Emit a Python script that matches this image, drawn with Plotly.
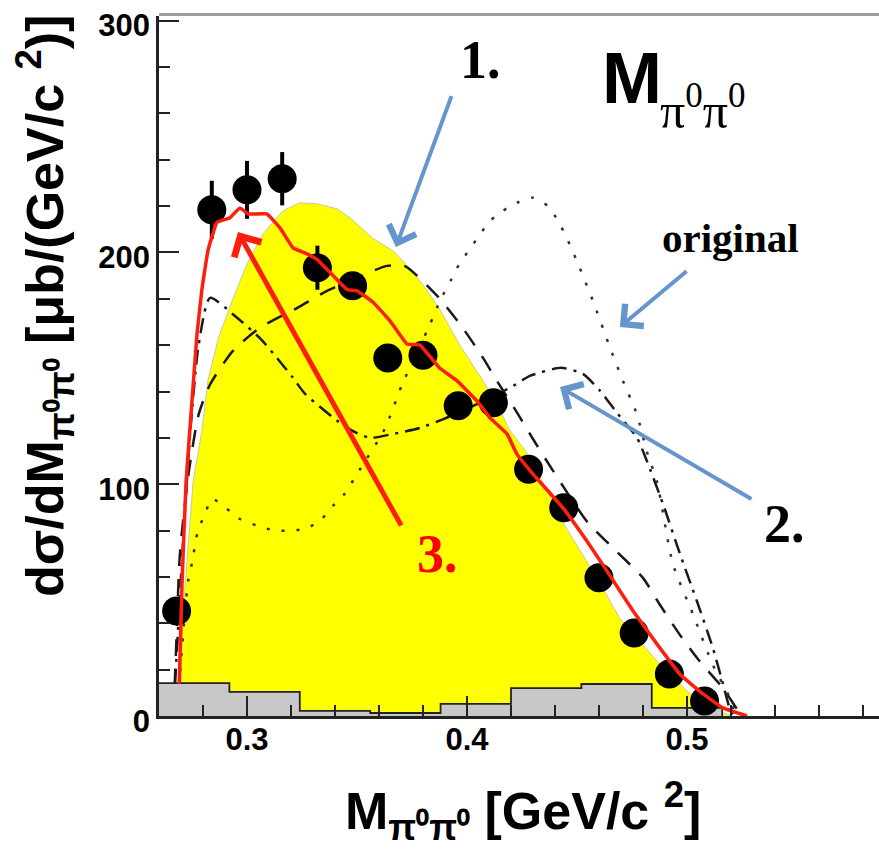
import plotly.graph_objects as go

# Measured dσ/dM(π0π0) in µb/(GeV/c²), bin centres in GeV/c²
mass = [0.268, 0.284, 0.300, 0.316, 0.332, 0.348, 0.364, 0.380,
        0.396, 0.412, 0.428, 0.444, 0.460, 0.476, 0.492, 0.508]
xsec = [45.3, 218.4, 227.0, 231.8, 193.4, 185.6, 154.5, 155.6,
        133.8, 135.1, 106.5, 89.8, 59.6, 35.8, 18.1, 6.5]
xsec_err = [5.0, 12.5, 12.5, 11.5, 9.5, 5.5, 5.0, 5.0,
            5.0, 5.0, 5.0, 5.0, 4.5, 4.0, 4.0, 3.5]

# Systematic uncertainty (grey histogram)
syst_edges = [0.260, 0.292, 0.324, 0.356, 0.388, 0.420, 0.452, 0.484, 0.516]
syst_vals = [14.2, 10.4, 2.2, 1.3, 5.2, 12.0, 13.8, 3.5]

# Model band (1.)
band_m = [0.2690, 0.2700, 0.2709, 0.2732, 0.2755, 0.2795, 0.2823, 0.2870,
          0.2936, 0.3000, 0.3073, 0.3164, 0.3240, 0.3318, 0.3410, 0.3468,
          0.3573, 0.3664, 0.3741, 0.3800, 0.3873, 0.3964, 0.4073, 0.4145,
          0.4190, 0.4268, 0.4327, 0.4445, 0.4591, 0.4695, 0.4864, 0.5000,
          0.5105, 0.5205]
band_v = [0.0, 15.0, 44.0, 72.5, 101.0, 123.0, 145.0, 163.0,
          180.0, 195.0, 208.0, 218.0, 221.4, 221.0, 218.8, 215.0,
          206.0, 200.7, 193.0, 186.0, 176.0, 160.5, 144.6, 133.0,
          124.0, 114.0, 104.0, 82.0, 59.6, 42.0, 23.7, 10.8,
          3.5, 0.0]

# Dashed model curve
dash_m = [0.2665, 0.2675, 0.2695, 0.2735, 0.2780, 0.2832, 0.2936, 0.3059,
          0.3227, 0.3364, 0.3500, 0.3636, 0.3720, 0.3773, 0.3877, 0.3980,
          0.4073, 0.4136, 0.4227, 0.4300, 0.4390, 0.4545, 0.4680, 0.4800,
          0.4877, 0.4968, 0.5059, 0.5164, 0.5220, 0.5250]
dash_v = [0.0, 22.0, 70.0, 105.0, 130.0, 143.0, 157.5, 167.5,
          176.0, 183.4, 189.0, 194.2, 194.0, 190.0, 180.0, 167.5,
          154.5, 144.6, 131.0, 119.5, 106.0, 84.0, 71.0, 59.6,
          48.0, 35.0, 23.5, 12.0, 4.0, 0.0]

# Dash-dotted model curve (2.)
dd_m = [0.2665, 0.2700, 0.2740, 0.2780, 0.2832, 0.2955, 0.3059, 0.3136,
        0.3209, 0.3264, 0.3455, 0.3559, 0.3664, 0.3786, 0.3890, 0.4000,
        0.4100, 0.4210, 0.4286, 0.4427, 0.4527, 0.4605, 0.4680, 0.4773,
        0.4818, 0.4891, 0.4968, 0.5045, 0.5118, 0.5164, 0.5200, 0.5225]
dd_v = [0.0, 60.0, 120.0, 160.0, 180.4, 171.8, 163.0, 154.5,
        145.9, 139.0, 124.3, 120.0, 121.7, 124.3, 128.0, 132.5,
        137.0, 142.4, 146.7, 150.2, 147.6, 140.3, 131.0, 120.0,
        110.0, 91.5, 70.0, 49.6, 29.3, 13.8, 2.0, 0.0]

# Dotted model curve (original)
dot_m = [0.2680, 0.2705, 0.2732, 0.2750, 0.2777, 0.2809, 0.2841, 0.2968,
         0.3050, 0.3127, 0.3205, 0.3273, 0.3340, 0.3390, 0.3445, 0.3500,
         0.3627, 0.3705, 0.3832, 0.3877, 0.3930, 0.3968, 0.4014, 0.4060,
         0.4105, 0.4164, 0.4227, 0.4300, 0.4368, 0.4414, 0.4455, 0.4514,
         0.4573, 0.4650, 0.4709, 0.4773, 0.4818, 0.4864, 0.4936, 0.5027,
         0.5118, 0.5195, 0.5220]
dot_v = [0.0, 30.0, 58.0, 66.0, 80.0, 87.0, 93.7, 85.0,
         82.0, 80.0, 80.0, 81.0, 85.0, 90.6, 96.0, 104.4,
         124.0, 143.0, 169.0, 179.0, 188.6, 195.5, 201.5, 208.0,
         213.6, 218.0, 221.4, 223.6, 220.0, 213.6, 206.0, 193.0,
         179.0, 159.0, 144.6, 130.0, 114.0, 101.0, 65.6, 44.0,
         22.0, 7.8, 0.0]

# Full model (3.)
red_m = [0.2692, 0.2705, 0.2723, 0.2750, 0.2773, 0.2795, 0.2823, 0.2864,
         0.2923, 0.2968, 0.3005, 0.3090, 0.3150, 0.3209, 0.3273, 0.3318,
         0.3391, 0.3455, 0.3500, 0.3573, 0.3650, 0.3727, 0.3786, 0.3877,
         0.3955, 0.4045, 0.4105, 0.4182, 0.4227, 0.4300, 0.4436, 0.4545,
         0.4636, 0.4755, 0.4864, 0.4968, 0.5073, 0.5164, 0.5273]
red_v = [14.0, 58.0, 101.0, 136.0, 165.0, 184.0, 201.0, 213.0,
         215.0, 219.2, 216.6, 216.6, 210.6, 202.0, 199.4, 197.0,
         190.0, 184.0, 183.4, 178.5, 170.5, 160.5, 160.0, 150.0,
         144.6, 136.0, 128.6, 121.7, 113.0, 104.4, 89.8, 75.5,
         62.6, 45.3, 31.0, 18.0, 9.5, 3.5, 0.0]

SANS = "Liberation Sans, Arial, sans-serif"
SERIF = "Liberation Serif, Times New Roman, serif"
BLUE = "#6495CD"
RED = "#FF1E0E"

fig = go.Figure()

fig.add_trace(go.Scatter(x=band_m, y=band_v, mode="lines", fill="tozeroy",
                         fillcolor="#FFFF00", line=dict(color="#C8C8A0", width=1),
                         hoverinfo="skip"))

fig.add_trace(go.Scatter(x=dash_m, y=dash_v, mode="lines",
                         line=dict(color="#1a1a1a", width=2.5, dash="17px,13px",
                                   shape="spline", smoothing=0.6)))
fig.add_trace(go.Scatter(x=dd_m, y=dd_v, mode="lines",
                         line=dict(color="#1a1a1a", width=2.5, dash="15px,7px,3px,7px",
                                   shape="spline", smoothing=0.6)))
fig.add_trace(go.Scatter(x=dot_m, y=dot_v, mode="lines",
                         line=dict(color="#333333", width=2.5, dash="3px,12px",
                                   shape="spline", smoothing=0.6)))

# grey step histogram of the systematic errors
step_x = syst_edges + [syst_edges[-1]]
step_y = syst_vals + [syst_vals[-1], 0.0]
fig.add_trace(go.Scatter(x=step_x, y=step_y, mode="lines", fill="tozeroy",
                         fillcolor="#C8C8C8", line=dict(color="#222222", width=1.8, shape="hv"),
                         hoverinfo="skip"))

fig.add_trace(go.Scatter(x=mass, y=xsec, mode="markers",
                         marker=dict(color="black", size=29),
                         error_y=dict(type="data", array=xsec_err, color="black",
                                      thickness=4, width=0)))

fig.add_trace(go.Scatter(x=red_m, y=red_v, mode="lines",
                         line=dict(color=RED, width=3.5, shape="spline", smoothing=0.3)))

annotations = [
    # axis titles
    dict(x=-0.158, y=0.586, xref="paper", yref="paper", textangle=-90,
         text="dσ/dM<sub>π⁰π⁰</sub> [μb/(GeV/c <sup>2</sup>)]",
         font=dict(family=SANS, size=52, color="black", weight="bold"),
         showarrow=False, xanchor="center", yanchor="middle"),
    dict(x=0.506, y=-0.135, xref="paper", yref="paper",
         text="M<sub>π⁰π⁰</sub> [GeV/c <sup>2</sup>]",
         font=dict(family=SANS, size=52, color="black", weight="bold"),
         showarrow=False, xanchor="center", yanchor="middle"),
    # panel title
    dict(x=0.4605, y=275.2, text="M",
         font=dict(family=SANS, size=72, color="black", weight="bold"),
         showarrow=False, xanchor="left", yanchor="middle"),
    dict(x=0.4868, y=248.0, text="π<sup>0</sup>π<sup>0</sup>",
         font=dict(family=SERIF, size=50, color="black"),
         showarrow=False, xanchor="left", yanchor="bottom"),
    # labels
    dict(x=0.3959, y=283.0, text="1.",
         font=dict(family=SERIF, size=54, color="black", weight="bold"),
         showarrow=False, xanchor="left", yanchor="middle"),
    dict(x=0.4877, y=206.2, text="original",
         font=dict(family=SERIF, size=41, color="black", weight="bold"),
         showarrow=False, xanchor="left", yanchor="middle"),
    dict(x=0.5341, y=82.8, text="2.",
         font=dict(family=SERIF, size=54, color="black", weight="bold"),
         showarrow=False, xanchor="left", yanchor="middle"),
    dict(x=0.3764, y=69.9, text="3.",
         font=dict(family=SERIF, size=54, color="#FF0000", weight="bold"),
         showarrow=False, xanchor="left", yanchor="middle"),
]

# pointer arrows: (tip, tail, colour, width, size)
arrows = [
    ((0.3677, 202.3), (0.3932, 268.1), BLUE, 4, 1.4),
    ((0.4695, 167.8), (0.5005, 192.4), BLUE, 4, 1.4),
    ((0.4423, 141.9), (0.5300, 93.2), BLUE, 4, 1.4),
    ((0.2959, 208.8), (0.3705, 81.5), RED, 5, 1.2),
]
for (tx, ty), (sx, sy), col, w, s in arrows:
    annotations.append(dict(x=tx, y=ty, ax=sx, ay=sy, xref="x", yref="y",
                            axref="x", ayref="y", text="", showarrow=True,
                            arrowhead=4, arrowsize=s, arrowwidth=w, arrowcolor=col,
                            standoff=0, startstandoff=0))

fig.update_layout(
    width=879, height=853,
    margin=dict(l=159, r=0, t=16, b=137),
    paper_bgcolor="white", plot_bgcolor="white",
    showlegend=False,
    annotations=annotations,
    shapes=[dict(type="line", xref="paper", yref="paper", x0=0, x1=1, y0=1.002, y1=1.002,
                 line=dict(color="#A0A0A0", width=3))],
)

fig.update_xaxes(range=[0.26, 0.5873], showgrid=False, zeroline=False,
                 showline=True, linecolor="#222222", linewidth=2.5,
                 ticks="inside", ticklen=20, tickwidth=2, tickcolor="#222222",
                 tick0=0, dtick=0.1, tickformat=".1f",
                 tickfont=dict(family=SANS, size=31, color="black", weight="bold"),
                 ticklabelstandoff=-6,
                 minor=dict(ticks="inside", ticklen=11, tickwidth=2, dtick=0.02,
                            tickcolor="#222222"))
fig.update_yaxes(range=[0, 302], showgrid=False, zeroline=False,
                 showline=True, linecolor="#222222", linewidth=2.5,
                 ticks="inside", ticklen=20, tickwidth=2, tickcolor="#222222",
                 tick0=0, dtick=100, ticklabelshift=5, ticklabeloverflow="allow",
                 tickfont=dict(family=SANS, size=31, color="black", weight="bold"),
                 minor=dict(ticks="inside", ticklen=11, tickwidth=2, dtick=20,
                            tickcolor="#222222"))

fig.write_html("out.html")
